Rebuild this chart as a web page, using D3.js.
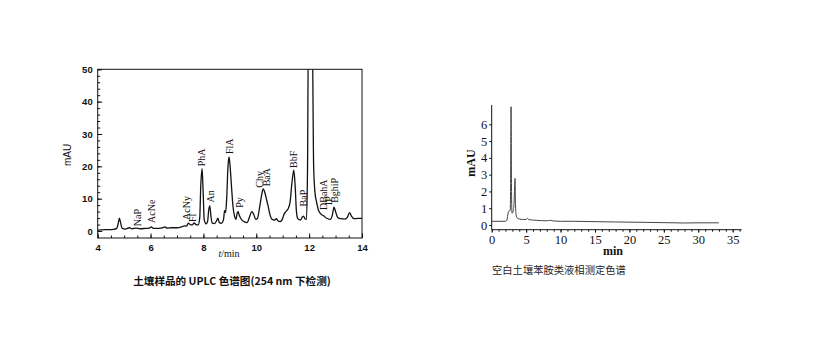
<!DOCTYPE html>
<html>
<head>
<meta charset="utf-8">
<script src="https://cdn.jsdelivr.net/npm/d3@7"></script>
<style>
  body { margin: 0; background: #fff; }
  svg { display: block; }
  .axis path, .axis line { stroke: #111; }
</style>
</head>
<body>
<svg id="chart" width="820" height="350"></svg>
<script>
// left chromatogram: soil sample, UPLC 254 nm
const sampleTime = [4.00, 4.30, 4.60, 4.72, 4.78, 4.82, 4.86, 4.92, 5.05, 5.20, 5.30, 5.45, 5.60, 5.80, 5.95, 6.03, 6.10, 6.30, 6.50, 6.55, 6.62, 6.80, 7.00, 7.15, 7.28, 7.36, 7.43, 7.50, 7.58, 7.65, 7.72, 7.80, 7.86, 7.90, 7.95, 7.99, 8.03, 8.10, 8.16, 8.20, 8.24, 8.28, 8.33, 8.42, 8.50, 8.55, 8.60, 8.68, 8.76, 8.80, 8.84, 8.88, 8.93, 8.97, 9.01, 9.06, 9.12, 9.18, 9.23, 9.28, 9.31, 9.35, 9.42, 9.55, 9.65, 9.75, 9.83, 9.90, 9.98, 10.05, 10.12, 10.20, 10.26, 10.32, 10.38, 10.44, 10.52, 10.60, 10.70, 10.76, 10.82, 10.90, 10.98, 11.05, 11.12, 11.20, 11.28, 11.35, 11.42, 11.47, 11.52, 11.57, 11.63, 11.68, 11.73, 11.79, 11.84, 11.90, 11.94, 11.97, 12.12, 12.17, 12.22, 12.28, 12.35, 12.45, 12.55, 12.65, 12.80, 12.88, 12.94, 13.00, 13.08, 13.20, 13.35, 13.45, 13.53, 13.60, 13.70, 13.85, 14.00];
const sampleMAU = [0.3, 0.4, 0.5, 0.8, 2.5, 4.0, 2.8, 0.9, 0.6, 1.0, 0.7, 0.9, 0.7, 0.8, 0.9, 1.3, 0.8, 0.8, 1.1, 1.3, 0.9, 1.0, 1.0, 1.2, 1.6, 1.5, 2.4, 2.0, 1.9, 2.5, 2.0, 1.9, 4.0, 14.0, 19.3, 12.0, 3.5, 2.2, 3.0, 6.5, 7.8, 5.0, 2.4, 2.3, 3.2, 4.0, 2.6, 2.4, 3.5, 6.3, 5.7, 10.0, 20.0, 22.9, 20.0, 14.0, 7.5, 4.5, 3.6, 5.6, 6.0, 5.0, 3.8, 2.8, 2.6, 4.5, 6.0, 5.2, 3.6, 4.0, 7.0, 11.0, 13.0, 12.0, 10.0, 8.0, 5.0, 3.6, 3.4, 3.8, 3.2, 2.9, 3.5, 5.2, 6.0, 6.8, 9.0, 15.0, 18.8, 14.0, 6.0, 3.8, 3.5, 3.4, 4.2, 4.6, 3.8, 3.6, 20.0, 60.0, 60.0, 20.0, 12.0, 9.0, 6.5, 5.2, 4.7, 4.0, 3.6, 5.0, 7.4, 6.0, 4.2, 3.8, 3.7, 4.3, 5.7, 4.6, 3.8, 3.9, 3.9];

// peak labels: name, retention time, label foot (mAU)
const peakNames = ["NaP", "AcNe", "AcNy", "Fl", "PhA", "An", "FlA", "Py", "Chy", "BaA", "BbF", "BaP", "DBahA", "IP", "BghiP"];
const peakTimes = [5.51, 6.04, 7.36, 7.59, 7.93, 8.27, 9.00, 9.35, 10.12, 10.40, 11.42, 11.80, 12.56, 12.75, 12.96];
const peakFoot  = [1.5, 2.5, 3.4, 2.8, 20.0, 8.8, 23.8, 7.2, 13.4, 13.8, 19.5, 7.6, 6.5, 8.0, 8.7];

const leftXTicks = [4, 6, 8, 10, 12, 14];
const leftYTicks = [0, 10, 20, 30, 40, 50];

// right chromatogram: blank soil, aniline LC
const blankTime = [0, 2.0, 2.2, 2.4, 2.55, 2.68, 2.74, 2.81, 2.88, 2.95, 3.05, 3.15, 3.25, 3.32, 3.39, 3.45, 3.55, 3.7, 4.0, 4.5, 5.0, 5.18, 5.4, 6.5, 8.0, 8.5, 9.0, 10, 12, 15, 18, 22, 25, 28, 30, 33];
const blankMAU  = [0.22, 0.22, 0.28, 0.75, 0.85, 0.85, 2.0, 7.05, 2.0, 0.7, 0.75, 0.9, 1.3, 2.2, 2.78, 1.3, 0.6, 0.42, 0.36, 0.33, 0.33, 0.4, 0.32, 0.28, 0.25, 0.28, 0.24, 0.22, 0.22, 0.2, 0.18, 0.16, 0.14, 0.12, 0.13, 0.13];

const rightXTicks = [0, 5, 10, 15, 20, 25, 30, 35];
const rightYTicks = [0, 1, 2, 3, 4, 5, 6];

const svg = d3.select("#chart");

// ---------- left chart ----------
const xL = d3.scaleLinear().domain([4, 14]).range([97.7, 362]);
const yL = d3.scaleLinear().domain([0, 50]).range([231, 69.3]);
const leftBottom = 238;
const leftFont = "'Liberation Sans', Arial, sans-serif";
const labelFont = "'Liberation Serif', 'Times New Roman', serif";

const left = svg.append("g");

left.append("defs").append("clipPath")
    .attr("id", "clipL")
    .append("rect")
    .attr("x", xL(4))
    .attr("y", yL(50))
    .attr("width", xL(14) - xL(4))
    .attr("height", leftBottom - yL(50));

// minor ticks (inward)
left.append("g")
    .attr("class", "axis")
    .attr("transform", `translate(0,${leftBottom})`)
    .call(d3.axisBottom(xL).tickValues(d3.range(4, 14.01, 0.5)).tickSize(-2.5).tickFormat(""))
    .call(g => g.select(".domain").remove());
left.append("g")
    .attr("class", "axis")
    .attr("transform", `translate(${xL(4)},0)`)
    .call(d3.axisLeft(yL).tickValues(d3.range(0, 50.1, 2)).tickSize(-2.5).tickFormat(""))
    .call(g => g.select(".domain").remove());

// major ticks
left.append("g")
    .attr("class", "axis")
    .attr("transform", `translate(0,${leftBottom})`)
    .call(d3.axisBottom(xL).tickValues(leftXTicks).tickSize(-4.5).tickPadding(6))
    .call(g => g.select(".domain").remove())
    .call(g => g.selectAll("text")
        .attr("y", 6)
        .style("font-family", leftFont)
        .style("font-weight", "bold")
        .style("font-size", "9.5px")
        .attr("fill", "#111"));
left.append("g")
    .attr("class", "axis")
    .attr("transform", `translate(${xL(4)},0)`)
    .call(d3.axisLeft(yL).tickValues(leftYTicks).tickSize(-4.5).tickPadding(5))
    .call(g => g.select(".domain").remove())
    .call(g => g.selectAll("text")
        .style("font-family", leftFont)
        .style("font-weight", "bold")
        .style("font-size", "9.5px")
        .attr("fill", "#111"));

// frame
left.append("rect")
    .attr("x", xL(4))
    .attr("y", yL(50))
    .attr("width", xL(14) - xL(4))
    .attr("height", leftBottom - yL(50))
    .attr("fill", "none")
    .attr("stroke", "#111")
    .attr("stroke-width", 1);

const leftLine = d3.line()
    .x(d => xL(d[0]))
    .y(d => yL(d[1]))
    .curve(d3.curveMonotoneX);

left.append("path")
    .datum(d3.zip(sampleTime, sampleMAU))
    .attr("clip-path", "url(#clipL)")
    .attr("d", leftLine)
    .attr("fill", "none")
    .attr("stroke", "#111")
    .attr("stroke-width", 1.3);

// peak labels, rotated
left.selectAll(".peak")
    .data(d3.zip(peakNames, peakTimes, peakFoot))
    .join("text")
    .attr("class", "peak")
    .attr("transform", d => `translate(${xL(d[1]) + 3.5},${yL(d[2])}) rotate(-90)`)
    .style("font-family", labelFont)
    .style("font-size", "10px")
    .attr("fill", "#111")
    .text(d => d[0]);

left.append("text")
    .attr("transform", `translate(71,155) rotate(-90)`)
    .attr("text-anchor", "middle")
    .style("font-family", leftFont)
    .style("font-size", "10px")
    .attr("fill", "#111")
    .text("mAU");

const tmin = left.append("text")
    .attr("x", 229)
    .attr("y", 257)
    .attr("text-anchor", "middle")
    .style("font-family", labelFont)
    .style("font-size", "10px")
    .attr("fill", "#111");
tmin.append("tspan").style("font-style", "italic").text("t");
tmin.append("tspan").text("/min");

left.append("text")
    .attr("x", 232)
    .attr("y", 285)
    .attr("text-anchor", "middle")
    .style("font-family", "'Noto Sans CJK SC', sans-serif")
    .style("font-weight", "bold")
    .style("font-size", "10.6px")
    .attr("fill", "#111")
    .text("土壤样品的 UPLC 色谱图(254 nm 下检测)");

// ---------- right chart ----------
const xR = d3.scaleLinear().domain([0, 35]).range([491.7, 732.7]);
const yR = d3.scaleLinear().domain([0, 6]).range([225, 124.3]);
const rightBottom = 229.7;
const rightFont = "'Liberation Serif', 'Times New Roman', serif";

const right = svg.append("g");

right.append("g")
    .attr("class", "axis")
    .attr("transform", `translate(0,${rightBottom})`)
    .call(d3.axisBottom(xR).tickValues(d3.range(0, 36.1, 1)).tickSize(2).tickFormat(""))
    .call(g => g.select(".domain").remove())
    .call(g => g.selectAll("line").attr("stroke", "#444"));

right.append("g")
    .attr("class", "axis")
    .attr("transform", `translate(0,${rightBottom})`)
    .call(d3.axisBottom(xR).tickValues(rightXTicks).tickSize(3).tickPadding(3))
    .call(g => g.select(".domain").attr("d", `M${xR(0)},0H${xR(36.3)}`).attr("stroke", "#333"))
    .call(g => g.selectAll("text")
        .attr("y", 5)
        .style("font-family", rightFont)
        .style("font-size", "12.5px")
        .attr("fill", "#111"));

right.append("g")
    .attr("class", "axis")
    .attr("transform", `translate(${xR(0)},0)`)
    .call(d3.axisLeft(yR).tickValues(rightYTicks).tickFormat(d3.format("d")).tickSize(2.5).tickPadding(2))
    .call(g => g.select(".domain").attr("d", `M0,${rightBottom}V${yR(7.15)}`).attr("stroke", "#333"))
    .call(g => g.selectAll("text")
        .style("font-family", rightFont)
        .style("font-size", "12.5px")
        .attr("fill", "#111"));

const rightLine = d3.line()
    .x(d => xR(d[0]))
    .y(d => yR(d[1]))
    .curve(d3.curveMonotoneX);

right.append("path")
    .datum(d3.zip(blankTime, blankMAU))
    .attr("d", rightLine)
    .attr("fill", "none")
    .attr("stroke", "#444")
    .attr("stroke-width", 1);

right.append("text")
    .attr("transform", `translate(475,163) rotate(-90)`)
    .attr("text-anchor", "middle")
    .style("font-family", rightFont)
    .style("font-weight", "bold")
    .style("font-size", "12px")
    .attr("fill", "#111")
    .text("mAU");

right.append("text")
    .attr("x", 613)
    .attr("y", 255)
    .attr("text-anchor", "middle")
    .style("font-family", rightFont)
    .style("font-weight", "bold")
    .style("font-size", "12px")
    .attr("fill", "#111")
    .text("min");

right.append("text")
    .attr("x", 492)
    .attr("y", 274)
    .style("font-family", "'Noto Sans CJK SC', sans-serif")
    .style("font-size", "10.3px")
    .attr("fill", "#222")
    .text("空白土壤苯胺类液相测定色谱");
</script>
</body>
</html>
